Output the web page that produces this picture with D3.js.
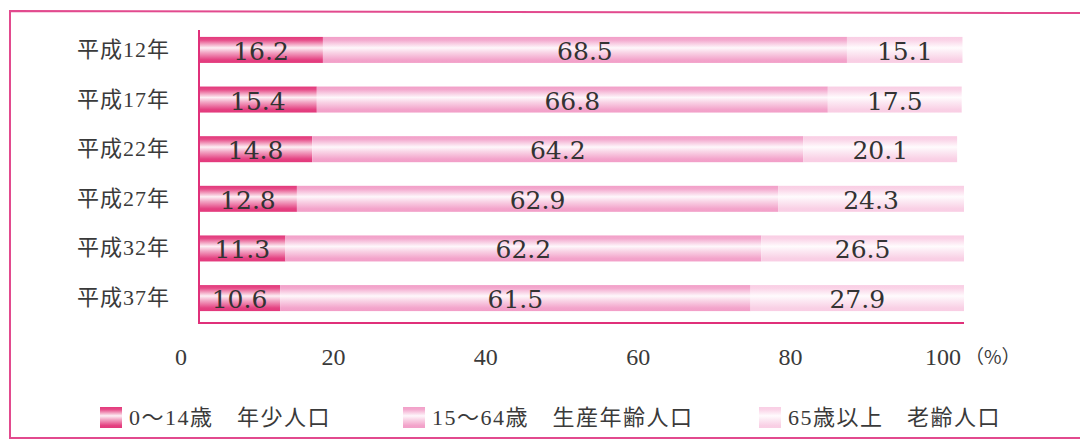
<!DOCTYPE html>
<html>
<head>
<meta charset="utf-8">
<script src="https://cdn.jsdelivr.net/npm/d3@7"></script>
<style>
  body { margin: 0; background: #fff; }
</style>
</head>
<body>
<div id="chart"></div>
<script>
// age structure, percent of population
const categories = ["平成12年", "平成17年", "平成22年", "平成27年", "平成32年", "平成37年"];
const young = [16.2, 15.4, 14.8, 12.8, 11.3, 10.6];     // 0～14歳
const working = [68.5, 66.8, 64.2, 62.9, 62.2, 61.5];   // 15～64歳
const elderly = [15.1, 17.5, 20.1, 24.3, 26.5, 27.9];   // 65歳以上
const seriesKeys = ["young", "working", "elderly"];
const seriesLabels = ["0～14歳　年少人口", "15～64歳　生産年齢人口", "65歳以上　老齢人口"];
const xTicks = [0, 20, 40, 60, 80, 100];

const W = 1080, H = 441;
const colors = ["#e3387b", "#f29fc8", "#f9cee4"];

const table = categories.map((c, i) => ({
  cat: c, young: young[i], working: working[i], elderly: elderly[i]
}));
const stacked = d3.stack().keys(seriesKeys)(table);

const svg = d3.select("#chart").append("svg")
  .attr("width", W)
  .attr("height", H);

// gradients: darker edges, pale stripe a bit above the middle
const defs = svg.append("defs");
colors.forEach((c, i) => {
  const g = defs.append("linearGradient")
    .attr("id", "grad" + i)
    .attr("x1", 0).attr("y1", 0).attr("x2", 0).attr("y2", 1);
  const pale = d3.interpolateRgb(c, "#ffffff");
  [[0, c], [0.12, pale(0.1)], [0.42, pale(0.92)],
   [0.6, pale(0.55)], [0.88, pale(0.05)], [1, c]]
    .forEach(([o, col]) => g.append("stop").attr("offset", o).attr("stop-color", col));
});

// outer frame (open on the right)
svg.append("path")
  .attr("d", `M1080,13 L10,11 L10,438 L1080,438`)
  .attr("fill", "none")
  .attr("stroke", "#e24a8e")
  .attr("stroke-width", 2);

const x = d3.scaleLinear().domain([0, 100]).range([199, 964]);
// tick labels sit a little left of the bars in the original print
const xLab = d3.scaleLinear().domain([0, 100]).range([181, 943]);
const y = d3.scaleBand().domain(categories).range([25, 323])
  .paddingInner(0.476).paddingOuter(0.24);

// bars
const layer = svg.selectAll("g.layer")
  .data(stacked)
  .join("g")
  .attr("class", "layer")
  .attr("fill", (d, i) => `url(#grad${i})`);

layer.selectAll("rect")
  .data(d => d)
  .join("rect")
  .attr("x", d => x(d[0]))
  .attr("y", d => y(d.data.cat))
  .attr("width", d => x(d[1]) - x(d[0]))
  .attr("height", y.bandwidth());

// value labels
layer.selectAll("text")
  .data((d, i) => d.map(v => ({ v, key: seriesKeys[i] })))
  .join("text")
  .attr("x", d => (x(d.v[0]) + x(d.v[1])) / 2)
  .attr("y", d => y(d.v.data.cat) + y.bandwidth() / 2 + 10)
  .attr("text-anchor", "middle")
  .attr("fill", "#333")
  .style("font-family", "'DejaVu Serif', serif")
  .style("font-size", "25px")
  .text(d => d.v.data[d.key].toFixed(1));

// axis frame
svg.append("path")
  .attr("d", `M${x(0)},30 L${x(0)},${y.range()[1]} L${x(100)},${y.range()[1]}`)
  .attr("fill", "none")
  .attr("stroke", "#e0307a")
  .attr("stroke-width", 2);

// category labels
svg.selectAll("text.cat")
  .data(categories)
  .join("text")
  .attr("class", "cat")
  .attr("x", 170)
  .attr("y", d => y(d) + y.bandwidth() / 2 + 7)
  .attr("text-anchor", "end")
  .attr("fill", "#3a3a3a")
  .style("font-family", "'Liberation Serif', 'Noto Sans CJK JP', serif")
  .style("font-size", "22px")
  .style("letter-spacing", "1px")
  .text(d => d);

// x tick labels
svg.selectAll("text.tick")
  .data(xTicks)
  .join("text")
  .attr("class", "tick")
  .attr("x", d => xLab(d))
  .attr("y", 365)
  .attr("text-anchor", "middle")
  .attr("fill", "#3a3a3a")
  .style("font-family", "'Liberation Serif', serif")
  .style("font-size", "24px")
  .text(d => d);

svg.append("text")
  .attr("x", xLab(100) + 22)
  .attr("y", 364)
  .attr("fill", "#3a3a3a")
  .style("font-family", "'Noto Sans CJK JP', sans-serif")
  .style("font-size", "19px")
  .text("（%）");

// legend
const legendX = [100, 403, 759];
const legend = svg.selectAll("g.legend")
  .data(seriesLabels)
  .join("g")
  .attr("class", "legend")
  .attr("transform", (d, i) => `translate(${legendX[i]},407)`);

legend.append("rect")
  .attr("width", 22)
  .attr("height", 21)
  .attr("fill", (d, i) => `url(#grad${i})`);

legend.append("text")
  .attr("x", 29)
  .attr("y", 18)
  .attr("fill", "#3a3a3a")
  .style("font-family", "'Liberation Serif', 'Noto Sans CJK JP', serif")
  .style("font-size", "22px")
  .style("letter-spacing", "1.5px")
  .text(d => d);
</script>
</body>
</html>
